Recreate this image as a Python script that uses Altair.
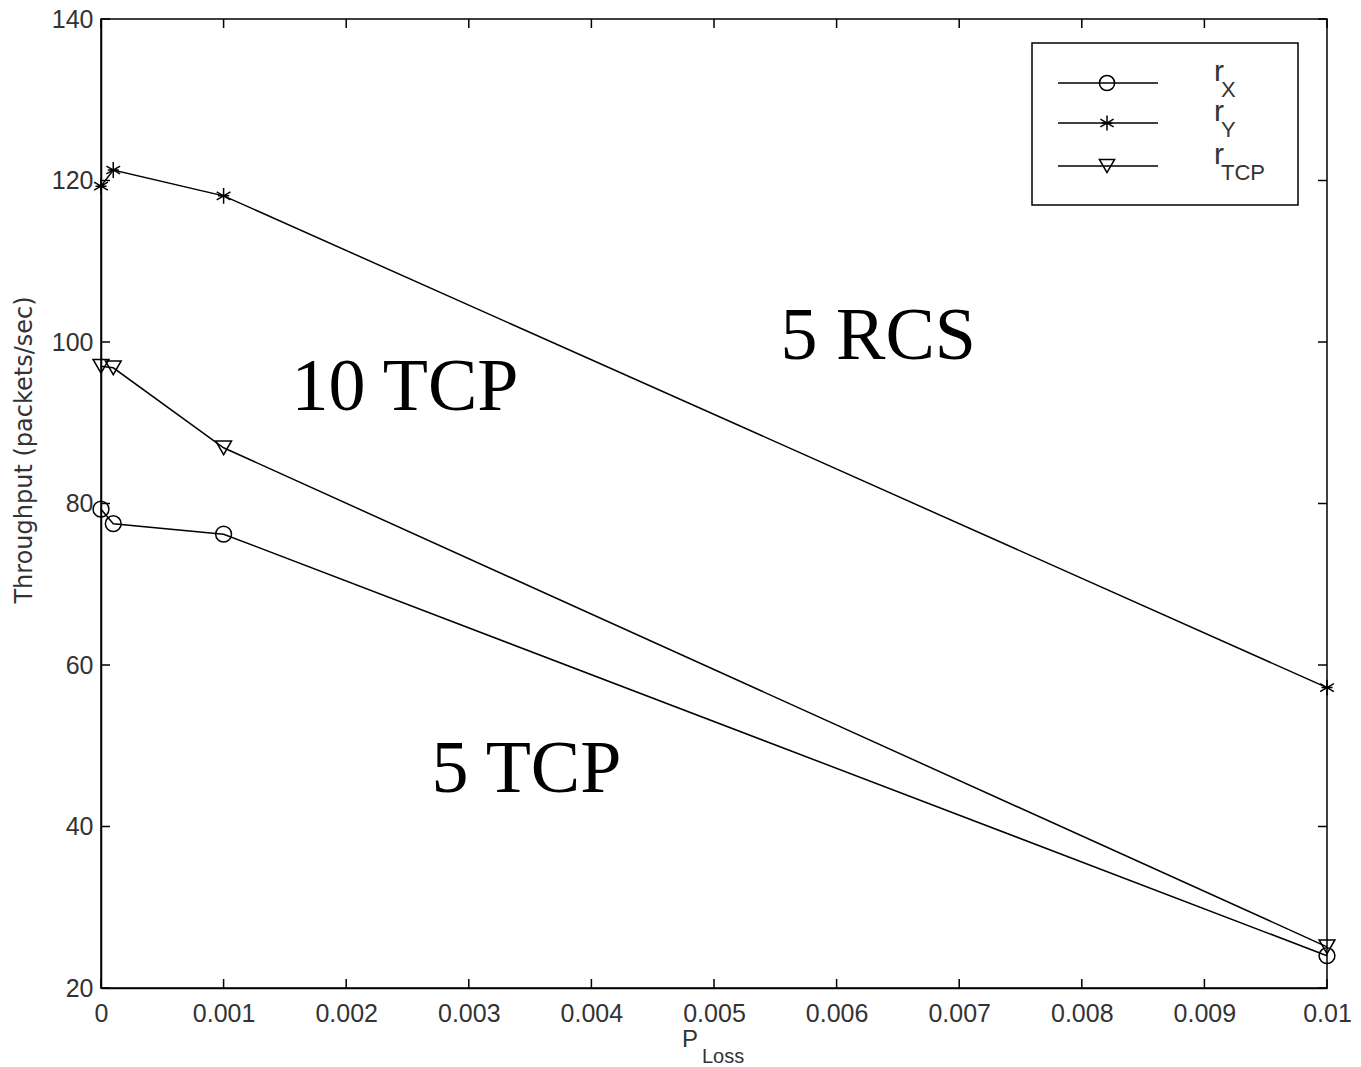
import altair as alt
import pandas as pd

# ---- data ----
p_loss = [0.0, 0.0001, 0.001, 0.01]
r_x = [79.3, 77.5, 76.2, 24.0]
r_y = [119.3, 121.3, 118.1, 57.2]
r_tcp = [97.0, 96.8, 86.9, 25.1]
series_names = ["rX", "rY", "rTCP"]
series_main = ["r", "r", "r"]
series_sub = ["X", "Y", "TCP"]

x_ticks = [0.0, 0.001, 0.002, 0.003, 0.004, 0.005, 0.006, 0.007, 0.008, 0.009, 0.01]
y_ticks = [20, 40, 60, 80, 100, 120, 140]

ann_text = ["5 RCS", "10 TCP", "5 TCP"]
ann_x = [0.00634, 0.00248, 0.00347]
ann_y = [100.6, 94.3, 47.0]

W, H = 1226, 969
ASTERISK = "M0,-1L0,1M-0.87,-0.5L0.87,0.5M-0.87,0.5L0.87,-0.5M-0.7,0L0.7,0"
shapes = ["circle", ASTERISK, "triangle-down"]

rows = []
for name, vals in zip(series_names, [r_x, r_y, r_tcp]):
    for xv, yv in zip(p_loss, vals):
        rows.append({"series": name, "p": xv, "thr": yv})
df = pd.DataFrame(rows)

xs = alt.Scale(domain=[0, 0.01], nice=False)
ys = alt.Scale(domain=[20, 140], nice=False)
shape_scale = alt.Scale(domain=series_names, range=shapes)

x_axis = alt.Axis(values=x_ticks, labelExpr="datum.value == 0 ? '0' : format(datum.value, '.3~f')",
                  tickSize=0, grid=False, title=None, labelFontSize=25, labelColor="#333",
                  labelFont="Liberation Sans", labelPadding=13, domainColor="black", domainWidth=1.5,
                  labelFlush=False)
y_axis = alt.Axis(values=y_ticks, tickSize=0, grid=False, title=None,
                  labelFontSize=25, labelColor="#333", labelFont="Liberation Sans",
                  labelPadding=8, domainColor="black", domainWidth=1.5)

base = alt.Chart(df)
lines = base.mark_line(color="black", strokeWidth=1.5).encode(
    x=alt.X("p:Q", scale=xs, axis=x_axis),
    y=alt.Y("thr:Q", scale=ys, axis=y_axis),
    detail="series:N",
)
points = base.mark_point(color="black", filled=False, strokeWidth=1.5, size=250, opacity=1).encode(
    x=alt.X("p:Q", scale=xs),
    y=alt.Y("thr:Q", scale=ys),
    shape=alt.Shape("series:N", scale=shape_scale, legend=None),
)

# inward ticks
xt = alt.Chart(pd.DataFrame({"t": x_ticks}))
yt = alt.Chart(pd.DataFrame({"t": y_ticks}))
tick_layers = [
    xt.mark_rule(color="black", strokeWidth=1.5).encode(x=alt.X("t:Q", scale=xs), y=alt.value(H), y2=alt.value(H - 9)),
    xt.mark_rule(color="black", strokeWidth=1.5).encode(x=alt.X("t:Q", scale=xs), y=alt.value(0), y2=alt.value(9)),
    yt.mark_rule(color="black", strokeWidth=1.5).encode(y=alt.Y("t:Q", scale=ys), x=alt.value(0), x2=alt.value(9)),
    yt.mark_rule(color="black", strokeWidth=1.5).encode(y=alt.Y("t:Q", scale=ys), x=alt.value(W), x2=alt.value(W - 9)),
]

ann = alt.Chart(pd.DataFrame({"x": ann_x, "y": ann_y, "t": ann_text})).mark_text(
    font="Liberation Serif", fontSize=74, color="black", align="center", baseline="middle"
).encode(x=alt.X("x:Q", scale=xs), y=alt.Y("y:Q", scale=ys), text="t:N")

one = pd.DataFrame({"a": [0]})
# y-axis title
ytitle = alt.Chart(one).mark_text(
    text="Throughput (packets/sec)", font="DejaVu Sans", fontSize=24, color="#333",
    angle=270, align="center", baseline="middle"
).encode(x=alt.value(25 - 101), y=alt.value(450 - 19))

# x-axis title with subscript
xtitle = [
    alt.Chart(one).mark_text(text="P", font="Liberation Sans", fontSize=24, color="#333", align="left", baseline="alphabetic")
    .encode(x=alt.value(682 - 101), y=alt.value(1047 - 19)),
    alt.Chart(one).mark_text(text="Loss", font="Liberation Sans", fontSize=20, color="#333", align="left", baseline="alphabetic")
    .encode(x=alt.value(702 - 101), y=alt.value(1063 - 19)),
]

# legend
lx0, lx1, ly0, ly1 = 1032 - 101, 1298 - 101, 43 - 19, 205 - 19
legend_layers = [
    alt.Chart(one).mark_rect(fill="white", stroke="black", strokeWidth=1.5)
    .encode(x=alt.value(lx0), x2=alt.value(lx1), y=alt.value(ly0), y2=alt.value(ly1))
]
row_y = [83 - 19, 123 - 19, 166 - 19]
for i, (nm, main, sub) in enumerate(zip(series_names, series_main, series_sub)):
    yy = row_y[i]
    legend_layers.append(
        alt.Chart(one).mark_rule(color="black", strokeWidth=1.5)
        .encode(x=alt.value(1058 - 101), x2=alt.value(1158 - 101), y=alt.value(yy))
    )
    legend_layers.append(
        alt.Chart(one).mark_point(color="black", filled=False, strokeWidth=1.5, size=230, opacity=1, shape=shapes[i])
        .encode(x=alt.value(1107 - 101), y=alt.value(yy))
    )
    legend_layers.append(
        alt.Chart(one).mark_text(text=main, font="Liberation Sans", fontSize=30, color="#333", align="left", baseline="alphabetic")
        .encode(x=alt.value(1214 - 101), y=alt.value(yy - 2))
    )
    legend_layers.append(
        alt.Chart(one).mark_text(text=sub, font="Liberation Sans", fontSize=22, color="#333", align="left", baseline="alphabetic")
        .encode(x=alt.value(1221 - 101), y=alt.value(yy + 14))
    )

chart = alt.layer(lines, points, *tick_layers, ann, ytitle, *xtitle, *legend_layers).properties(
    width=W, height=H,
    autosize=alt.AutoSizeParams(type="none"),
    padding={"left": 101, "top": 19, "right": 34, "bottom": 79},
    background="white",
).configure_view(stroke="black", strokeWidth=1.5)

chart.save("out.html", embed_options={"renderer": "svg", "actions": False})
